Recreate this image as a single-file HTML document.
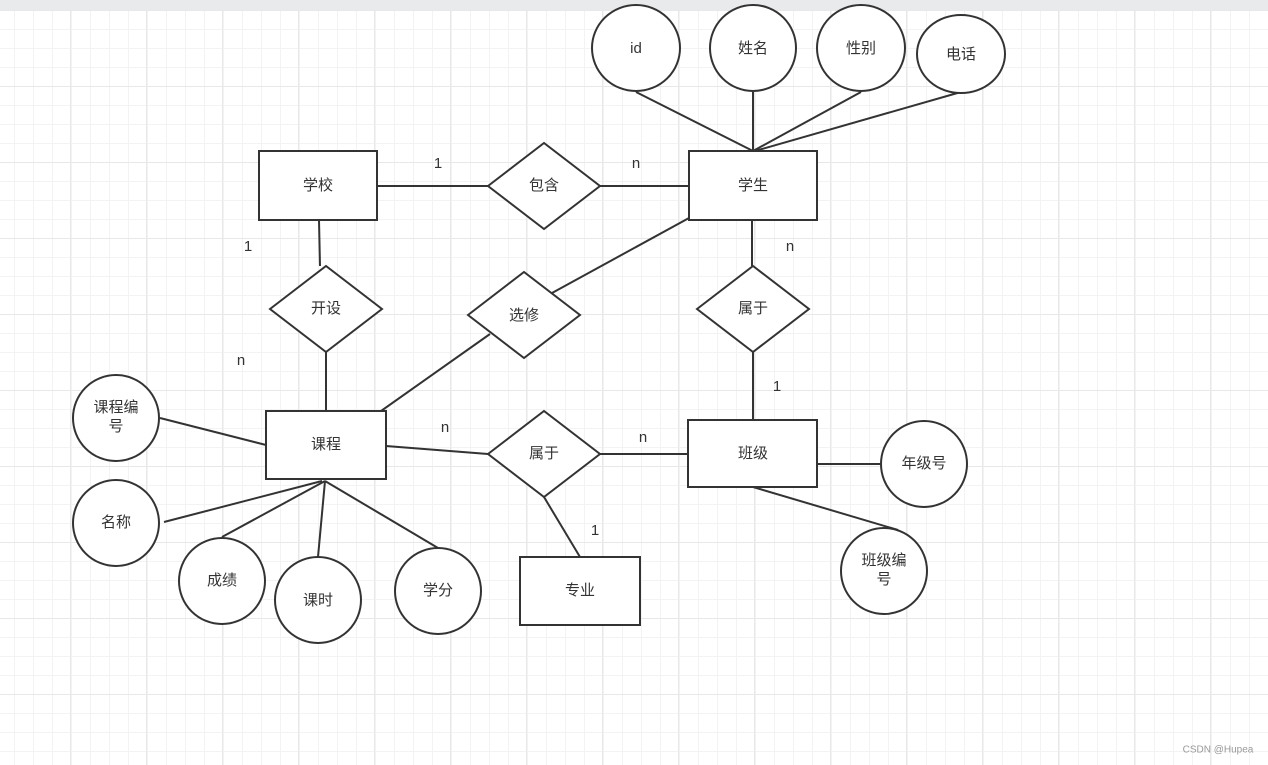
<!DOCTYPE html>
<html><head><meta charset="utf-8"><style>
html,body{margin:0;padding:0}
body{width:1268px;height:765px;overflow:hidden;background:#fff;position:relative;font-family:"Liberation Sans","Noto Sans CJK SC",sans-serif}
.grid{position:absolute;left:0;top:10px;width:1268px;height:755px;
background-image:
linear-gradient(to right,#e8e8e8 1px,transparent 1px),
linear-gradient(to bottom,#e8e8e8 1px,transparent 1px),
linear-gradient(to right,#f3f3f3 1px,transparent 1px),
linear-gradient(to bottom,#f3f3f3 1px,transparent 1px);
background-size:76px 76px,76px 76px,19px 19px,19px 19px;
background-position:70px 0,0 0,14px 0,0 0}
.bar{position:absolute;left:0;top:0;width:1268px;height:10px;background:#e9eaec}
svg{position:absolute;left:0;top:0}
text{font-family:"Liberation Sans","Noto Sans CJK SC",sans-serif;font-size:15px;fill:#333;text-anchor:middle;dominant-baseline:middle}
</style></head><body>
<div class="bar"></div><div class="grid"></div>
<svg width="1268" height="765" viewBox="0 0 1268 765">
<g stroke="#333" stroke-width="2" fill="none">
<line x1="636" y1="92" x2="753" y2="151"/>
<line x1="753" y1="92" x2="753" y2="151"/>
<line x1="861" y1="92" x2="753" y2="151"/>
<line x1="961" y1="92" x2="755" y2="151"/>
<line x1="377" y1="186" x2="488" y2="186"/>
<line x1="600" y1="186" x2="689" y2="186"/>
<line x1="319" y1="220" x2="320" y2="266"/>
<line x1="326" y1="352" x2="326" y2="411"/>
<line x1="689" y1="218" x2="552" y2="293"/>
<line x1="490" y1="334" x2="381" y2="411"/>
<line x1="752" y1="220" x2="752" y2="266"/>
<line x1="753" y1="352" x2="753" y2="420"/>
<line x1="386" y1="446" x2="488" y2="454"/>
<line x1="600" y1="454" x2="688" y2="454"/>
<line x1="544" y1="497" x2="580" y2="557"/>
<line x1="160" y1="418" x2="266" y2="445"/>
<line x1="164" y1="522" x2="322" y2="481"/>
<line x1="222" y1="537" x2="325" y2="481"/>
<line x1="318" y1="557" x2="325" y2="481"/>
<line x1="438" y1="548" x2="325" y2="481"/>
<line x1="817" y1="464" x2="880" y2="464"/>
<line x1="753" y1="487" x2="898" y2="530"/>
</g>
<g stroke="#333" stroke-width="2" fill="#fff">
<ellipse cx="636" cy="48" rx="44" ry="43"/>
<ellipse cx="753" cy="48" rx="43" ry="43"/>
<ellipse cx="861" cy="48" rx="44" ry="43"/>
<ellipse cx="961" cy="54" rx="44" ry="39"/>
<rect x="259" y="151" width="118" height="69"/>
<polygon points="488,186 544,143 600,186 544,229"/>
<rect x="689" y="151" width="128" height="69"/>
<polygon points="270,309 326,266 382,309 326,352"/>
<polygon points="468,315 524,272 580,315 524,358"/>
<polygon points="697,309 753,266 809,309 753,352"/>
<rect x="266" y="411" width="120" height="68"/>
<polygon points="488,454 544,411 600,454 544,497"/>
<rect x="688" y="420" width="129" height="67"/>
<rect x="520" y="557" width="120" height="68"/>
<ellipse cx="116" cy="418" rx="43" ry="43"/>
<ellipse cx="116" cy="523" rx="43" ry="43"/>
<ellipse cx="222" cy="581" rx="43" ry="43"/>
<ellipse cx="318" cy="600" rx="43" ry="43"/>
<ellipse cx="438" cy="591" rx="43" ry="43"/>
<ellipse cx="924" cy="464" rx="43" ry="43"/>
<ellipse cx="884" cy="571" rx="43" ry="43"/>
</g>
<text x="636" y="49">id</text>
<text x="753" y="49">姓名</text>
<text x="861" y="49">性别</text>
<text x="961" y="55">电话</text>
<text x="318" y="186">学校</text>
<text x="544" y="186">包含</text>
<text x="753" y="186">学生</text>
<text x="326" y="309">开设</text>
<text x="524" y="316">选修</text>
<text x="753" y="309">属于</text>
<text x="326" y="445">课程</text>
<text x="544" y="454">属于</text>
<text x="753" y="454">班级</text>
<text x="580" y="591">专业</text>
<text x="116" y="408">课程编</text>
<text x="116" y="427">号</text>
<text x="116" y="523">名称</text>
<text x="222" y="581">成绩</text>
<text x="318" y="601">课时</text>
<text x="438" y="591">学分</text>
<text x="924" y="464">年级号</text>
<text x="884" y="561">班级编</text>
<text x="884" y="580">号</text>
<text x="438" y="164">1</text>
<text x="636" y="164">n</text>
<text x="248" y="247">1</text>
<text x="790" y="247">n</text>
<text x="241" y="361">n</text>
<text x="777" y="387">1</text>
<text x="445" y="428">n</text>
<text x="643" y="438">n</text>
<text x="595" y="531">1</text>
<text x="1218" y="750" style="font-size:10px;fill:#999">CSDN @Hupea</text>
</svg>
</body></html>
